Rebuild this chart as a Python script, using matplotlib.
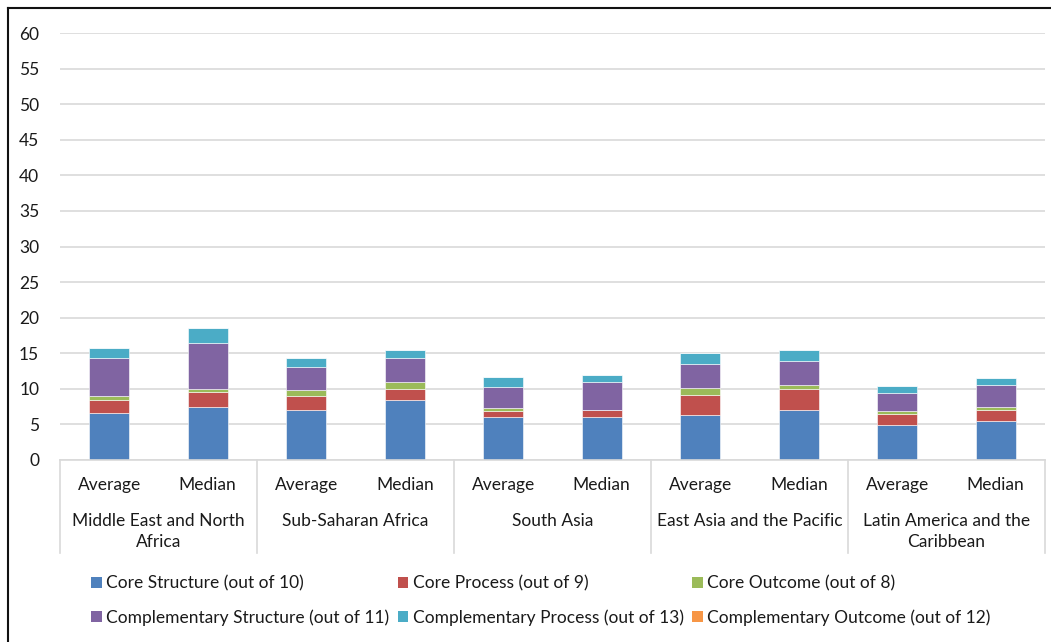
import matplotlib
matplotlib.use('agg')
import matplotlib.pyplot as plt
from matplotlib.lines import Line2D
from matplotlib.patches import Patch
import numpy as np

plt.rcParams['font.family'] = ['Lato', 'DejaVu Sans']

regions = ['Middle East and North\nAfrica', 'Sub-Saharan Africa', 'South Asia',
           'East Asia and the Pacific', 'Latin America and the\nCaribbean']
stats = ['Average', 'Median']

series_names = ['Core Structure (out of 10)', 'Core Process (out of 9)',
                'Core Outcome (out of 8)', 'Complementary Structure (out of 11)',
                'Complementary Process (out of 13)', 'Complementary Outcome (out of 12)']
colors = ['#4F81BD', '#C0504D', '#9BBB59', '#8064A2', '#4BACC6', '#F79646']

# bars in order: region1 avg, region1 median, region2 avg, ...
core_structure = [6.6, 7.5, 7.0, 8.5, 6.0, 6.0, 6.3, 7.0, 4.9, 5.5]
core_process = [1.9, 2.0, 2.0, 1.5, 0.9, 1.0, 2.9, 3.0, 1.5, 1.5]
core_outcome = [0.45, 0.5, 0.9, 1.0, 0.4, 0.0, 0.9, 0.5, 0.5, 0.5]
comp_structure = [5.45, 6.5, 3.2, 3.4, 3.0, 4.0, 3.4, 3.45, 2.5, 3.0]
comp_process = [1.4, 2.0, 1.3, 1.1, 1.4, 1.0, 1.5, 1.5, 1.05, 1.0]
comp_outcome = [0, 0, 0, 0, 0, 0, 0, 0, 0, 0]

series = [core_structure, core_process, core_outcome,
          comp_structure, comp_process, comp_outcome]

FS = 12.5
TXT = '#1a1a1a'

fig = plt.figure(figsize=(10.51, 6.42), dpi=100)
ax = fig.add_axes([60 / 1051, 1 - 460 / 642, 985 / 1051, 427 / 642])

n = len(core_structure)
x = np.arange(n)
bottom = np.zeros(n)
for vals, col in zip(series, colors):
    vals = np.array(vals, dtype=float)
    ax.bar(x, vals, width=0.41, bottom=bottom, color=col,
           edgecolor='#ffffff', linewidth=0.4)
    bottom += vals

ax.set_xlim(-0.5, n - 0.5)
ax.set_ylim(0, 60)
ax.set_yticks(range(0, 61, 5))
ax.yaxis.grid(True, color='#d9d9d9', linewidth=1.2)
ax.set_axisbelow(True)
for s in ['top', 'right', 'left']:
    ax.spines[s].set_visible(False)
ax.spines['bottom'].set_color('#d9d9d9')
ax.spines['bottom'].set_linewidth(1.2)
ax.tick_params(axis='y', length=0, labelsize=FS, pad=15, colors=TXT)
ax.tick_params(axis='x', length=0)
ax.set_xticks([])

# two-level category axis
trans = ax.get_xaxis_transform()
for i in range(n):
    ax.text(x[i], -0.058, stats[i % 2], transform=trans, ha='center', va='center',
            fontsize=FS, color=TXT)
for g, name in enumerate(regions):
    ax.text(2 * g + 0.5, -0.124, name, transform=trans, ha='center', va='top',
            fontsize=FS, color=TXT, linespacing=1.42)
for b in np.arange(-0.5, n, 2):
    ax.plot([b, b], [0, -0.218], transform=trans, color='#d9d9d9',
            linewidth=1.2, clip_on=False)

# legend, filled column by column
handles = [Patch(facecolor=c) for c in colors]
order = [0, 3, 1, 4, 2, 5]
fig.legend([handles[i] for i in order], [series_names[i] for i in order],
           ncol=3, loc='center', bbox_to_anchor=(541 / 1051, 1 - 600.5 / 642),
           frameon=False, fontsize=FS, handlelength=0.6, handleheight=0.6,
           handletextpad=0.25, columnspacing=0.5, labelspacing=1.0,
           labelcolor=TXT)

# outer frame on the left and top edges
fig.add_artist(Line2D([7.5 / 1051, 7.5 / 1051], [0, 1 - 7.5 / 642],
                      transform=fig.transFigure, color='#111111', linewidth=1.5))
fig.add_artist(Line2D([7.5 / 1051, 1], [1 - 7.5 / 642, 1 - 7.5 / 642],
                      transform=fig.transFigure, color='#111111', linewidth=1.5))

fig.savefig('out.png', dpi=100, facecolor='white')
